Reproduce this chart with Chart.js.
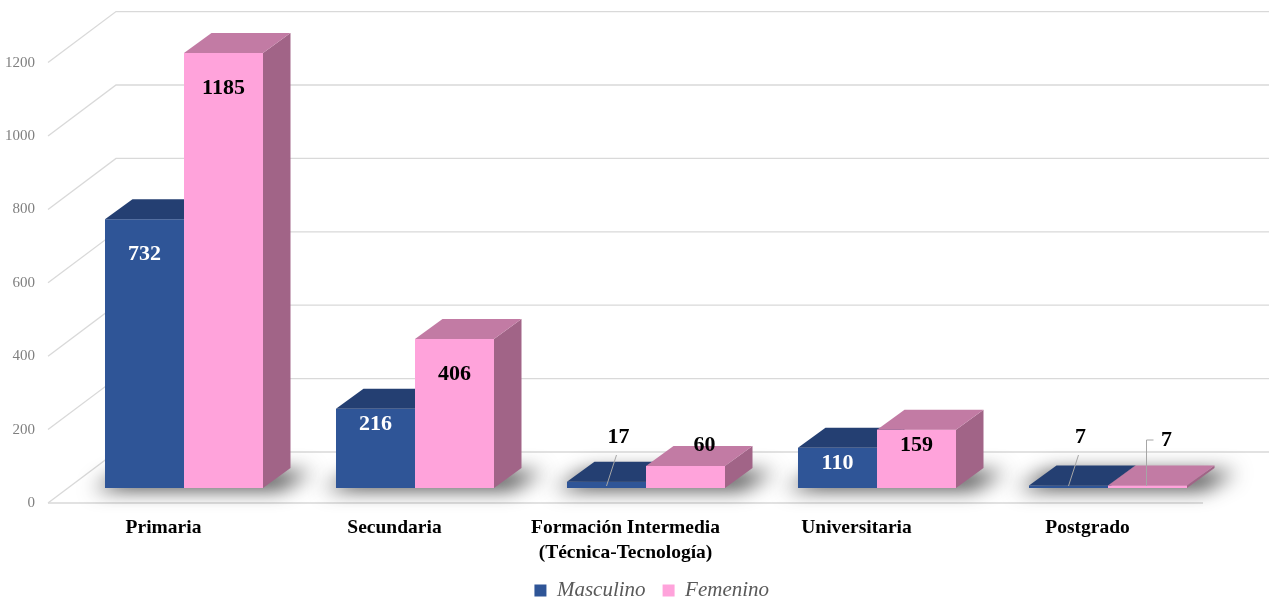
<!DOCTYPE html>
<html>
<head>
<meta charset="utf-8">
<script src="https://cdn.jsdelivr.net/npm/chart.js@4.4.1/dist/chart.umd.min.js"></script>
<style>
  html, body { margin: 0; padding: 0; background: #fff; }
  #wrap { width: 1269px; height: 601px; position: relative; }
</style>
</head>
<body>
<div id="wrap"><canvas id="chart"></canvas></div>
<script>
const categories = [
  "Primaria",
  "Secundaria",
  ["Formación Intermedia", "(Técnica-Tecnología)"],
  "Universitaria",
  "Postgrado",
];
const masculino = [732, 216, 17, 110, 7];
const femenino = [1185, 406, 60, 159, 7];
const yTicks = [0, 200, 400, 600, 800, 1000, 1200];

const FONT = "'Liberation Serif', 'Times New Roman', serif";
const BLUE = { front: "#2f5597", top: "#243f72", side: "#1f3764" };
const PINK = { front: "#ffa3db", top: "#c27ba4", side: "#a16487" };

// 3d look: depth of the boxes and of the floor / back wall
const DX = 27.5, DY = 20;
const FRONT = { x: -20.5, y: 15 };
const BACK = { x: 47.5, y: -36 };

function poly(ctx, pts, fill) {
  ctx.beginPath();
  ctx.moveTo(pts[0][0], pts[0][1]);
  for (let i = 1; i < pts.length; i++) ctx.lineTo(pts[i][0], pts[i][1]);
  ctx.closePath();
  ctx.fillStyle = fill;
  ctx.fill();
}

function edges(bar) {
  return { l: bar.x - bar.width / 2, r: bar.x + bar.width / 2, t: bar.y, b: bar.base };
}

function drawTop(ctx, bar, color) {
  const e = edges(bar);
  poly(ctx, [[e.l, e.t], [e.r, e.t], [e.r + DX, e.t - DY], [e.l + DX, e.t - DY]], color);
}

function drawSide(ctx, bar, color) {
  const e = edges(bar);
  poly(ctx, [[e.r, e.t], [e.r + DX, e.t - DY], [e.r + DX, e.b - DY], [e.r, e.b]], color);
}

const walls = {
  id: "walls",
  beforeDatasetsDraw(chart) {
    const { ctx, chartArea: a, scales: { y } } = chart;
    ctx.save();
    ctx.strokeStyle = "#d9d9d9";
    ctx.lineWidth = 1.3;
    yTicks.forEach((v) => {
      const py = y.getPixelForValue(v);
      ctx.beginPath();
      ctx.moveTo(a.left + FRONT.x, py + FRONT.y);
      ctx.lineTo(a.left + BACK.x, py + BACK.y);
      ctx.lineTo(chart.width, py + BACK.y);
      ctx.stroke();
    });
    // front edge of the floor
    const p0 = y.getPixelForValue(0);
    ctx.beginPath();
    ctx.moveTo(a.left + FRONT.x, p0 + FRONT.y);
    ctx.lineTo(a.right + FRONT.x, p0 + FRONT.y);
    ctx.stroke();

    // soft shadows on the floor (shape drawn off canvas, only its shadow shows)
    const m0 = chart.getDatasetMeta(0).data;
    const m1 = chart.getDatasetMeta(1).data;
    const off = 3000;
    ctx.shadowColor = "rgba(0,0,0,0.8)";
    ctx.shadowBlur = 20;
    ctx.shadowOffsetX = off;
    m0.forEach((b, i) => {
      const l = edges(b).l, r = edges(m1[i]).r, base = b.base;
      poly(ctx, [
        [l - 12 - off, base + 1],
        [r + 16 - off, base + 1],
        [r + DX + 22 - off, base - DY + 4],
        [l + DX - 6 - off, base - DY + 4],
      ], "#000");
    });
    ctx.restore();
  },
};

const boxes = {
  id: "boxes",
  afterDatasetsDraw(chart) {
    const ctx = chart.ctx;
    const m0 = chart.getDatasetMeta(0).data;
    const m1 = chart.getDatasetMeta(1).data;
    ctx.save();
    m0.forEach((b, i) => {
      const p = m1[i];
      const e = edges(p);
      drawSide(ctx, b, BLUE.side);
      drawTop(ctx, b, BLUE.top);
      // pink box sits in front of the blue box's hidden faces
      ctx.fillStyle = PINK.front;
      ctx.fillRect(e.l, e.t, e.r - e.l, Math.max(e.b - e.t, 1.5));
      drawSide(ctx, p, PINK.side);
      drawTop(ctx, p, PINK.top);
    });

    // value labels
    ctx.font = "bold 22px " + FONT;
    ctx.textAlign = "center";
    ctx.textBaseline = "middle";
    ctx.strokeStyle = "#a6a6a6";
    ctx.lineWidth = 1;
    [m0, m1].forEach((bars, ds) => {
      const values = ds === 0 ? masculino : femenino;
      bars.forEach((bar, i) => {
        const h = bar.base - bar.y;
        const txt = String(values[i]);
        if (h >= 30) {
          ctx.fillStyle = ds === 0 ? "#ffffff" : "#000000";
          ctx.fillText(txt, bar.x, bar.y + (h > 100 ? 35 : 16));
        } else if (h >= 10) {
          ctx.fillStyle = "#000000";
          ctx.fillText(txt, bar.x + 19, bar.y - 21);
        } else {
          const ly = bar.base - 51;
          ctx.beginPath();
          if (ds === 0) {
            ctx.moveTo(bar.x, bar.base - 2);
            ctx.lineTo(bar.x + 10, ly + 18);
            ctx.stroke();
            ctx.fillStyle = "#000000";
            ctx.fillText(txt, bar.x + 12, ly);
          } else {
            ctx.moveTo(bar.x - 1, bar.base - 2);
            ctx.lineTo(bar.x - 1, ly + 3);
            ctx.lineTo(bar.x + 6, ly + 3);
            ctx.stroke();
            ctx.fillStyle = "#000000";
            ctx.fillText(txt, bar.x + 19, ly + 3);
          }
        }
      });
    });
    ctx.restore();
  },
};

const whiteBg = {
  id: "whiteBg",
  beforeDraw(chart) {
    const ctx = chart.ctx;
    ctx.save();
    ctx.fillStyle = "#ffffff";
    ctx.fillRect(0, 0, chart.width, chart.height);
    ctx.restore();
  },
};

// the legend sits a little right of the canvas centre in the original
const legendShift = {
  id: "legendShift",
  afterLayout(chart) {
    if (chart.legend) {
      chart.legend.left += 40;
      chart.legend.right += 40;
    }
  },
};

new Chart(document.getElementById("chart"), {
  type: "bar",
  data: {
    labels: categories,
    datasets: [
      { label: "Masculino", data: masculino, backgroundColor: BLUE.front, borderWidth: 0 },
      { label: "Femenino", data: femenino, backgroundColor: PINK.front, borderWidth: 0 },
    ],
  },
  options: {
    responsive: true,
    maintainAspectRatio: false,
    animation: false,
    categoryPercentage: 0.684,
    barPercentage: 1,
    layout: { padding: { top: 47.6, right: 45.5, left: 0, bottom: -10 } },
    plugins: {
      tooltip: { enabled: false },
      legend: {
        position: "bottom",
        labels: {
          boxWidth: 12,
          boxHeight: 12,
          padding: 17,
          color: "#595959",
          font: { family: FONT, size: 21, style: "italic" },
          sort: (a, b) => a.datasetIndex - b.datasetIndex,
        },
      },
    },
    scales: {
      x: {
        grid: { display: false, drawTicks: false },
        border: { display: false },
        ticks: {
          color: "#000000",
          padding: 28,
          labelOffset: FRONT.x,
          maxRotation: 0,
          font: { family: FONT, size: 19.5, weight: "bold", lineHeight: 1.25 },
        },
        afterFit: (scale) => {
          const lg = scale.chart.legend;
          scale.height = 123 - (lg ? lg.height : 0);
        },
      },
      y: {
        min: 0,
        max: 1200,
        grid: { display: false, drawTicks: false },
        border: { display: false },
        ticks: {
          stepSize: 200,
          color: "#7f7f7f",
          padding: 33.5,
          labelOffset: FRONT.y,
          font: { family: FONT, size: 15 },
          callback: (v) => String(v),
        },
        afterFit: (scale) => {
          scale.width = 68.5;
        },
      },
    },
  },
  plugins: [whiteBg, walls, boxes, legendShift],
});
</script>
</body>
</html>
